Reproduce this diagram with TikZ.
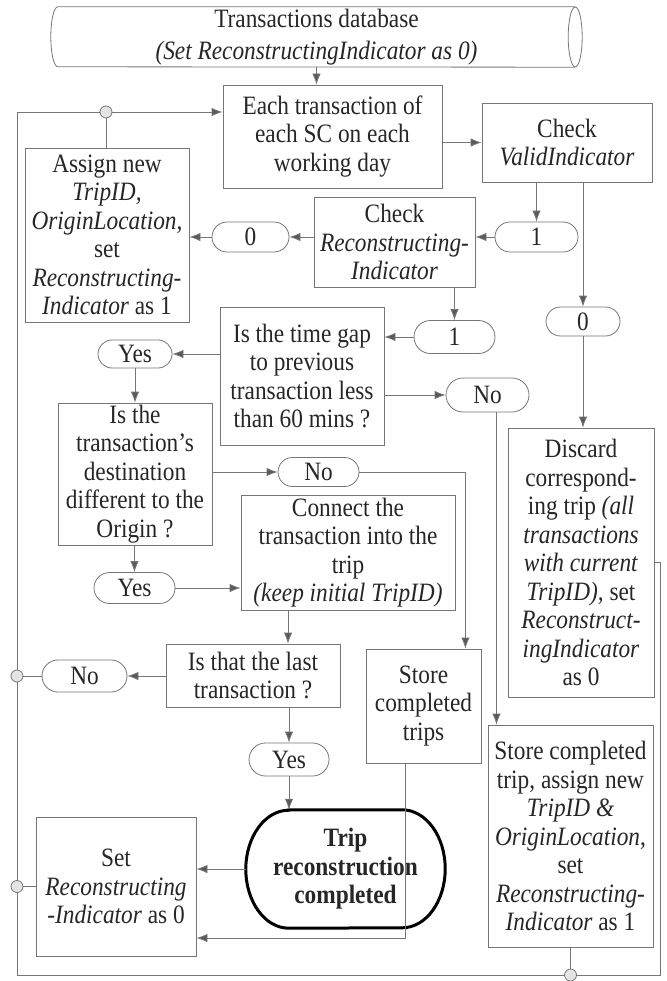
\documentclass[tikz,border=0pt]{standalone}
\usepackage{fontspec}
\setmainfont{Liberation Serif}[FakeStretch=0.88]
\usetikzlibrary{arrows.meta,shapes.misc,calc}
\definecolor{linegray}{HTML}{767676}
\definecolor{headgray}{HTML}{5A5A5A}
\definecolor{jfill}{HTML}{E4E4E4}
\tikzset{
  ln/.style={draw=linegray, line width=0.8pt},
  txt/.style={font=\fontsize{26.5}{28.5}\selectfont, align=center, inner sep=0pt, text=black!85},
  sz/.style 2 args={minimum width=#1pt, minimum height=#2pt},
  box/.style={ln, rectangle, txt},
  pill/.style={ln, rounded rectangle, txt, fill=white},
  jn/.style={circle, draw=linegray, fill=jfill, line width=0.8pt, minimum size=12pt, inner sep=0pt},
  arr/.style={ln, -{Latex[length=11pt,width=8.5pt,fill=headgray]}},
}
\begin{document}
\begin{tikzpicture}[x=1pt,y=-1pt]
\useasboundingbox (0,0) rectangle (666,981);
% database cylinder
\node[txt, sz={531}{60}] (db) at (316.5,37) {Transactions database\\[3pt]\textit{(Set ReconstructingIndicator as 0)}};
\draw[ln] ([xshift=-7pt]db.north east) -- ([xshift=7pt]db.north west)
  arc[start angle=90, end angle=270, x radius=7pt, y radius=30pt]
  -- ([xshift=-7pt]db.south east);
\draw[ln] ([xshift=-7pt]db.east) ellipse[x radius=7pt, y radius=30pt];

\node[box, sz={219}{103}] (each) at (332.5,136.5) {Each transaction of\\each SC on each\\working day};
\node[box, sz={170}{79}] (valid) at (567,142.5) {Check\\\textit{ValidIndicator}};
\node[box, sz={164}{174}] (assign) at (107,235) {Assign new\\\textit{TripID,}\\\textit{OriginLocation,}\\set\\\textit{Reconstructing-}\\\textit{Indicator} as 1};
\node[box, sz={161}{90}] (chkrec) at (394.5,242) {Check\\\textit{Reconstructing-}\\\textit{Indicator}};
\node[pill, sz={77}{30}] (p0a) at (250.5,237) {0};
\node[pill, sz={83}{30}] (p1a) at (536.5,237) {1};
\node[pill, sz={74}{29}] (p0b) at (583,321.5) {0};
\node[pill, sz={81}{33}] (p1b) at (454.5,337) {1};
\node[box, sz={164}{138}] (gap) at (302,376) {Is the time gap\\to previous\\transaction less\\than 60 mins ?};
\node[pill, sz={74}{28}] (yes1) at (135,354) {Yes};
\node[pill, sz={83}{34}] (no1) at (487.5,395) {No};
\node[box, sz={154}{142}] (dest) at (135,474) {Is the\\transaction's\\destination\\different to the\\Origin ?};
\node[pill, sz={81}{29}] (no2) at (318.5,472) {No};
\node[box, sz={146}{269}] (discard) at (581,562.5) {Discard\\correspond-\\ing trip \textit{(all}\\\textit{transactions}\\\textit{with current}\\\textit{TripID),} set\\\textit{Reconstruct-}\\\textit{ingIndicator}\\as 0};
\node[pill, sz={81}{31}] (yes2) at (134.5,588) {Yes};
\node[box, sz={214}{115}] (connect) at (348,552.5) {Connect the\\transaction into the\\trip\\\textit{(keep initial TripID)}};
\node[box, sz={174}{63}] (last) at (253,675.5) {Is that the last\\transaction ?};
\node[pill, sz={85}{32}] (no3) at (84.5,676) {No};
\node[box, sz={115}{114}] (storeA) at (423.5,706) {Store\\completed\\trips};
\node[box, sz={165}{222}] (storeB) at (570.5,836) {Store completed\\trip, assign new\\\textit{TripID \&}\\\textit{OriginLocation},\\set\\\textit{Reconstructing-}\\\textit{Indicator} as 1};
\node[pill, sz={80}{33}] (yes3) at (289,759.5) {Yes};
\node[txt, sz={199}{118}, font=\fontsize{26.5}{28.5}\selectfont\bfseries] (term) at (345.5,869) {Trip\\reconstruction\\completed};
\draw[line width=3pt, black] ([xshift=43pt]term.north west) -- ([xshift=-43pt]term.north east)
  arc[start angle=90, end angle=-90, x radius=43pt, y radius=59pt]
  -- ([xshift=43pt]term.south west)
  arc[start angle=270, end angle=90, x radius=43pt, y radius=59pt] -- cycle;
\node[box, sz={160}{139}] (set) at (116,886.5) {Set\\\textit{Reconstructing}\\\textit{-Indicator} as 0};

% loop coordinates
\coordinate (tl) at (17,112);
\coordinate (bl) at (17,975);
\coordinate (br) at (660,975);
\coordinate (tr) at (660,562.5);

% connectors
\draw[arr] (db.south) -- (db.south |- each.north);
\draw[arr] (valid.west -| each.east) -- (valid.west);
\draw[arr] (p1a.north |- valid.south) -- (p1a.north);
\draw[arr] (p0b.north |- valid.south) -- (p0b.north);
\draw[arr] (p1a.west) -- (p1a.west -| chkrec.east);
\draw[arr] (chkrec.west |- p0a.east) -- (p0a.east);
\draw[arr] (p0a.west) -- (p0a.west -| assign.east);
\draw[arr] (p1b.north |- chkrec.south) -- (p1b.north);
\draw[arr] (p1b.west) -- (p1b.west -| gap.east);
\draw[arr] (p0b.south) -- (p0b.south |- discard.north);
\draw[arr] (gap.west |- yes1.east) -- (yes1.east);
\draw[arr] (gap.east |- no1.west) -- (no1.west);
\draw[arr] (yes1.south) -- (yes1.south |- dest.north);
\draw[arr] (dest.east |- no2.west) -- (no2.west);
\draw[arr] (no2.east) -| ([xshift=-16pt]storeA.north east);
\draw[arr] (yes2.north |- dest.south) -- (yes2.north);
\draw[arr] (yes2.east) -- (yes2.east -| connect.west);
\draw[arr] ([xshift=-60pt]connect.south) -- ([xshift=-60pt]connect.south |- last.north);
\draw[arr] (last.west |- no3.east) -- (no3.east);
\draw[arr] (yes3.north |- last.south) -- (yes3.north);
\draw[arr] (yes3.south) -- (yes3.south |- term.north);
\draw[arr] (term.west) -- (term.west -| set.east);
\draw[arr] ([xshift=-18pt]storeA.south) |- ([yshift=-51.5pt]set.east);
\draw[arr] ([xshift=9pt]no1.south) -- ([xshift=9pt]no1.south |- storeB.north);

% feedback loop
\draw[ln] (discard.east) -- (tr) -- (br) -- (bl) -- (tl);
\draw[arr] (tl) -- (tl -| each.west);
\node[jn] (j1) at (106,112) {};
\node[jn] (j2) at (17,676) {};
\node[jn] (j3) at (17,886.5) {};
\node[jn] (j4) at (570.5,975) {};
\draw[ln] (assign.north -| j1) -- (j1);
\draw[ln] (no3.west) -- (j2);
\draw[ln] (set.west) -- (j3);
\draw[ln] (storeB.south) -- (j4);
\end{tikzpicture}
\end{document}
